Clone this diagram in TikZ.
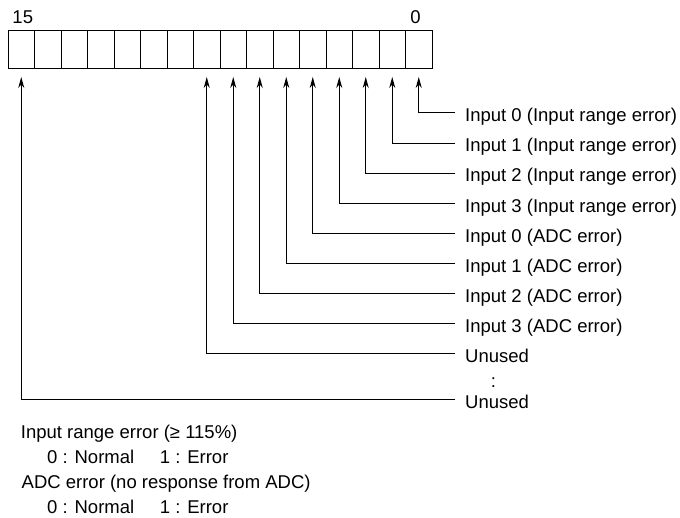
\documentclass[tikz,border=0pt]{standalone}
\usepackage{fontspec}
\setmainfont{Liberation Sans}
\usetikzlibrary{arrows.meta}
\begin{document}
\begin{tikzpicture}[x=1pt,y=-1pt,
  every node/.style={font=\fontsize{18.5}{22}\selectfont},
  cell/.style={draw=black, line width=1pt, minimum width=26.5pt, minimum height=38pt, inner sep=0pt, outer sep=0pt},
  lbl/.style={anchor=base west, inner sep=0pt},
  txt/.style={anchor=base west, inner sep=0pt},
  arr/.style={draw=black, line width=1pt, -{Stealth[length=11pt,width=6pt]}, shorten >=8pt}]
\useasboundingbox (0,0) rectangle (680,518);
% register cells
\foreach \i in {0,...,15}
  \node[cell] (b\i) at ({432-13.25-26.5*\i},50) {};
\node[anchor=base west, inner sep=0pt] (n15) at (12.3,23.3) {15};
\node[anchor=base, inner sep=0pt] (n0) at (415.5,23.3) {0};
% labels and connectors
\foreach \i/\y/\t in {0/113/Input 0 (Input range error),
                      1/143.1/Input 1 (Input range error),
                      2/173.2/Input 2 (Input range error),
                      3/203.3/Input 3 (Input range error),
                      4/233.4/Input 0 (ADC error),
                      5/263.5/Input 1 (ADC error),
                      6/293.6/Input 2 (ADC error),
                      7/323.7/Input 3 (ADC error),
                      8/353.8/Unused,
                      15/400/Unused}{
  \node[lbl] (l\i) at (465,{\y+8.8}) {\t};
  \coordinate (e\i) at (455,\y);
  \draw[arr] (e\i) -| (b\i.south);
}
\node[anchor=base, inner sep=0pt] (dots) at (493.5,387.5) {:};
% legend
\node[txt] (t1) at (20.7,438.4) {Input range error (≥ 115\%)};
\node[txt] (t2a) at (47,463.4) {0 : Normal};
\node[txt] (t2b) at (159.7,463.4) {1 : Error};
\node[txt] (t3) at (21.5,488.4) {ADC error (no response from ADC)};
\node[txt] (t4a) at (47,513.4) {0 : Normal};
\node[txt] (t4b) at (159.7,513.4) {1 : Error};
\end{tikzpicture}
\end{document}
